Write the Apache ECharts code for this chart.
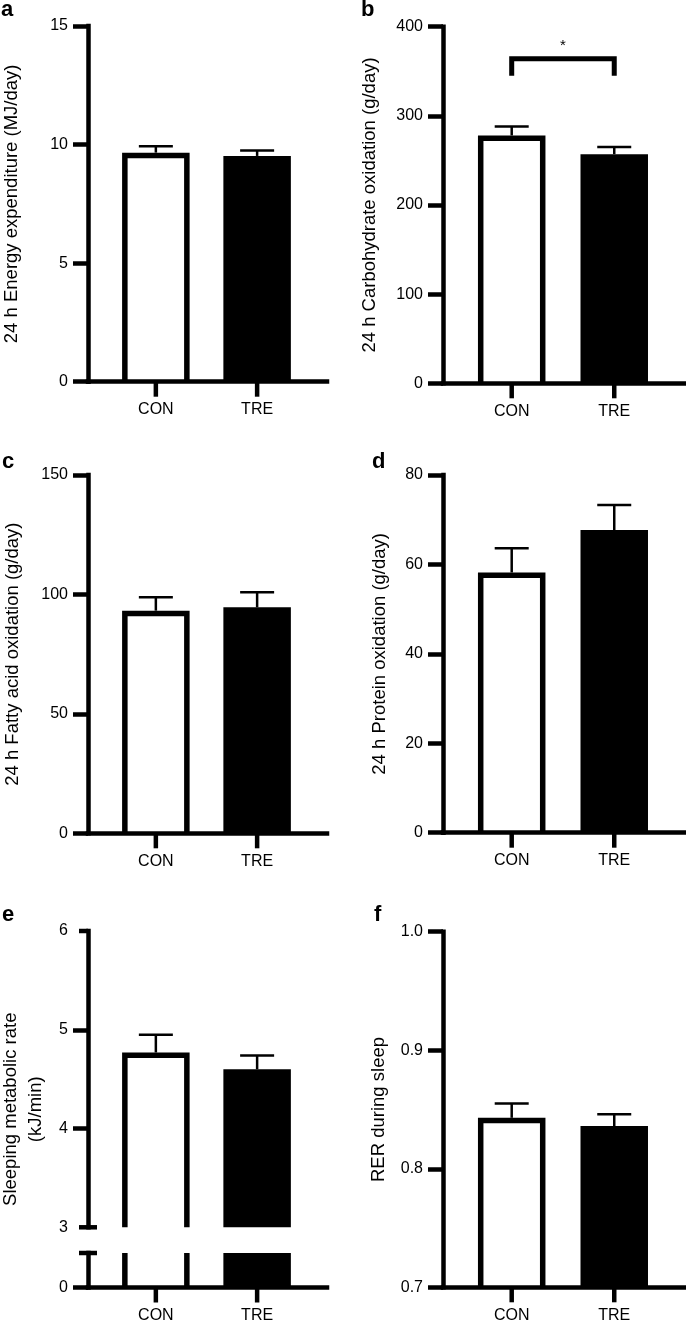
<!DOCTYPE html>
<html>
<head>
<meta charset="utf-8">
<script src="https://cdn.jsdelivr.net/npm/echarts@6/dist/echarts.min.js"></script>
<style>
html,body{margin:0;padding:0;background:#fff;}
#chart{width:686px;height:1323px;}
</style>
</head>
<body>
<div id="chart"></div>
<script>
// ---------------- DATA ----------------
const categories = ['CON', 'TRE'];
const panelLetters = ['a', 'b', 'c', 'd', 'e', 'f'];
const axisTitles = [
  '24 h Energy expenditure (MJ/day)',
  '24 h Carbohydrate oxidation (g/day)',
  '24 h Fatty acid oxidation (g/day)',
  '24 h Protein oxidation (g/day)',
  'Sleeping metabolic rate\n(kJ/min)',
  'RER during sleep'
];
// means and SEM (upper error) per panel, [CON, TRE]
const energyMean = [9.66, 9.52],   energySem = [0.27, 0.23];
const carbMean   = [278, 257],     carbSem   = [10, 8];
const fatMean    = [93.2, 94.6],   fatSem    = [5.6, 6.3];
const protMean   = [58.2, 67.7],   protSem   = [5.4, 5.6];
const smrMean    = [4.77, 4.60],   smrSem    = [0.18, 0.14];
const rerMean    = [0.843, 0.836], rerSem    = [0.012, 0.010];
// y-axis ticks
const energyTicks = [0, 5, 10, 15];
const carbTicks   = [0, 100, 200, 300, 400];
const fatTicks    = [0, 50, 100, 150];
const protTicks   = [0, 20, 40, 60, 80];
const smrTicksUpper = [3, 4, 5, 6];
const smrTicksLower = [0, 1];
const rerTicks    = [0.7, 0.8, 0.9, 1.0];
// significance bracket (panel b): from category, to category, bracket top, leg bottom
const carbSig = [[0, 1, 364, 345]];
const carbSigMark = '*';

// ---------------- STYLE / LAYOUT ----------------
const FONT = '"Liberation Sans", Arial, Helvetica, sans-serif';
const X_MIN = -0.67, X_MAX = 1.69;
const BAR_W = 67.5, BORDER = 5.5, AXIS_W = 4.5, TICK_LEN = 15, ERR_W = 2.5, CAP_HALF = 17;

const grids = [], xAxes = [], yAxes = [], series = [];

function addGrid(g) {
  grids.push(Object.assign({containLabel: false, outerBoundsMode: 'none'}, g));
  return grids.length - 1;
}
function xAxisCfg(gi, show) {
  return {
    gridIndex: gi, type: 'value', min: X_MIN, max: X_MAX, show: show,
    splitLine: {show: false},
    axisLine: {show: true, onZero: false, lineStyle: {color: '#000', width: AXIS_W, cap: 'square'}},
    axisTick: {show: false},
    axisLabel: {show: true, customValues: [0, 1], formatter: v => categories[Math.round(v)] || '',
      color: '#000', fontSize: 16, fontFamily: FONT, margin: 20}
  };
}
function yAxisCfg(gi, ticks, extra) {
  const cfg = {
    gridIndex: gi, type: 'value', min: ticks[0], max: ticks[ticks.length - 1],
    interval: ticks[1] - ticks[0],
    splitLine: {show: false},
    axisLine: {show: true, onZero: false, lineStyle: {color: '#000', width: AXIS_W, cap: 'square'}},
    axisTick: {show: true, length: TICK_LEN, lineStyle: {color: '#000', width: AXIS_W}},
    axisLabel: {color: '#000', fontSize: 16, fontFamily: FONT, margin: 20},
    nameLocation: 'middle',
    nameTextStyle: {color: '#000', fontSize: 18.5, fontFamily: FONT}
  };
  return Object.assign(cfg, extra || {});
}
// filled (TRE) bar
function filledBarSeries(gi, means, idx) {
  return {
    type: 'bar', xAxisIndex: gi, yAxisIndex: gi, barWidth: BAR_W, clip: true,
    silent: true, animation: false, z: 2,
    data: [{value: [idx, means[idx]], itemStyle: {color: '#000', borderWidth: 0}}]
  };
}
// category ticks below the x axis
function xTickSeries(gi, yBase) {
  return {
    type: 'custom', xAxisIndex: gi, yAxisIndex: gi, silent: true, animation: false, z: 1,
    data: categories.map((c, i) => [i, yBase]),
    renderItem: (params, api) => {
      const p = api.coord([api.value(0), api.value(1)]);
      return {type: 'line', shape: {x1: p[0], y1: p[1], x2: p[0], y2: p[1] + TICK_LEN},
        style: {stroke: '#000', lineWidth: AXIS_W}};
    }
  };
}
function errSeries(gi, means, sems) {
  return {
    type: 'custom', xAxisIndex: gi, yAxisIndex: gi, silent: true, animation: false, z: 5,
    data: means.map((m, i) => [i, m, m + sems[i]]),
    renderItem: (params, api) => {
      const p0 = api.coord([api.value(0), api.value(1)]);
      const p1 = api.coord([api.value(0), api.value(2)]);
      return {type: 'group', children: [
        {type: 'line', shape: {x1: p0[0], y1: p0[1], x2: p1[0], y2: p1[1]}, style: {stroke: '#000', lineWidth: ERR_W}},
        {type: 'line', shape: {x1: p1[0] - CAP_HALF, y1: p1[1], x2: p1[0] + CAP_HALF, y2: p1[1]}, style: {stroke: '#000', lineWidth: ERR_W}}
      ]};
    }
  };
}
// open-bottom outlined bar (CON): data [x, top, base]
function openBarSeries(gi, rows, drawTop) {
  return {
    type: 'custom', xAxisIndex: gi, yAxisIndex: gi, silent: true, animation: false, z: 3,
    data: rows,
    renderItem: (params, api) => {
      const pT = api.coord([api.value(0), api.value(1)]);
      const pB = api.coord([api.value(0), api.value(2)]);
      const h = BAR_W / 2 - BORDER / 2;
      if (drawTop) {
        const yt = pT[1] + BORDER / 2;
        return {type: 'polyline', shape: {points: [[pT[0] - h, pB[1]], [pT[0] - h, yt], [pT[0] + h, yt], [pT[0] + h, pB[1]]]},
          style: {stroke: '#000', lineWidth: BORDER, fill: null, lineJoin: 'miter'}};
      }
      return {type: 'group', children: [
        {type: 'line', shape: {x1: pT[0] - h, y1: pT[1], x2: pT[0] - h, y2: pB[1]}, style: {stroke: '#000', lineWidth: BORDER}},
        {type: 'line', shape: {x1: pT[0] + h, y1: pT[1], x2: pT[0] + h, y2: pB[1]}, style: {stroke: '#000', lineWidth: BORDER}}
      ]};
    }
  };
}
// short horizontal marks on the y axis (axis-break caps / short end tick)
function axisMarkSeries(gi, yVal, leftLen, rightLen) {
  return {
    type: 'custom', xAxisIndex: gi, yAxisIndex: gi, silent: true, animation: false, z: 4,
    data: [[X_MIN, yVal]],
    renderItem: (params, api) => {
      const p = api.coord([api.value(0), api.value(1)]);
      return {type: 'line', shape: {x1: p[0] - leftLen, y1: p[1], x2: p[0] + rightLen, y2: p[1]}, style: {stroke: '#000', lineWidth: AXIS_W}};
    }
  };
}

// standard panels
const standard = [
  {idx: 0, mean: energyMean, sem: energySem, ticks: energyTicks, grid: {left: 88, top: 26, width: 239, height: 355.7}, gap: 67},
  {idx: 1, mean: carbMean, sem: carbSem, ticks: carbTicks, grid: {left: 443, top: 26.7, width: 242, height: 356.6}, gap: 64},
  {idx: 2, mean: fatMean, sem: fatSem, ticks: fatTicks, grid: {left: 88, top: 475, width: 239, height: 358.3}, gap: 66},
  {idx: 3, mean: protMean, sem: protSem, ticks: protTicks, grid: {left: 443, top: 475, width: 242, height: 357.7}, gap: 54},
  {idx: 5, mean: rerMean, sem: rerSem, ticks: rerTicks, grid: {left: 443, top: 931.7, width: 242, height: 355.6}, gap: 55,
    fmt: v => v.toFixed(1)}
];
const gridOf = {};
standard.forEach(p => {
  const gi = addGrid(p.grid);
  gridOf[p.idx] = gi;
  xAxes.push(xAxisCfg(gi, true));
  const y = yAxisCfg(gi, p.ticks, {name: axisTitles[p.idx], nameGap: p.gap});
  if (p.fmt) y.axisLabel.formatter = p.fmt;
  yAxes.push(y);
  series.push(filledBarSeries(gi, p.mean, 1));
  series.push(openBarSeries(gi, [[0, p.mean[0], p.ticks[0]]], true));
  series.push(errSeries(gi, p.mean, p.sem));
  series.push(xTickSeries(gi, p.ticks[0]));
});

// significance bracket on panel b
series.push({
  type: 'custom', xAxisIndex: gridOf[1], yAxisIndex: gridOf[1], silent: true, animation: false, z: 6,
  data: carbSig,
  renderItem: (params, api) => {
    const pL = api.coord([api.value(0), api.value(2)]);
    const pR = api.coord([api.value(1), api.value(2)]);
    const pLb = api.coord([api.value(0), api.value(3)]);
    return {type: 'group', children: [
      {type: 'polyline', shape: {points: [[pL[0], pLb[1]], pL, pR, [pR[0], pLb[1]]]},
        style: {stroke: '#000', lineWidth: 5, fill: null, lineJoin: 'miter'}},
      {type: 'text', x: (pL[0] + pR[0]) / 2, y: pL[1] - 13,
        style: {text: carbSigMark, font: '15px ' + FONT, fill: '#000', align: 'center', verticalAlign: 'middle'}}
    ]};
  }
});

// panel e : broken axis
const eUp = addGrid({left: 88, top: 931, width: 239, height: 296.3});
xAxes.push(xAxisCfg(eUp, false));
yAxes.push(yAxisCfg(eUp, smrTicksUpper, {axisTick: {show: true, customValues: smrTicksUpper.slice(1, -1), length: TICK_LEN, lineStyle: {color: '#000', width: AXIS_W}}}));
series.push(filledBarSeries(eUp, smrMean, 1));
series.push(openBarSeries(eUp, [[0, smrMean[0], smrTicksUpper[0]]], true));
series.push(errSeries(eUp, smrMean, smrSem));
series.push(axisMarkSeries(eUp, smrTicksUpper[0], 9, 9));
series.push(axisMarkSeries(eUp, smrTicksUpper[smrTicksUpper.length - 1], 9, 0));

const eLo = addGrid({left: 88, top: 1253, width: 239, height: 34.5});
xAxes.push(xAxisCfg(eLo, true));
const yLo = yAxisCfg(eLo, smrTicksLower);
yLo.axisTick.customValues = [smrTicksLower[0]];
yLo.axisLabel.customValues = [smrTicksLower[0]];
yAxes.push(yLo);
series.push(filledBarSeries(eLo, smrMean, 1));
series.push(openBarSeries(eLo, [[0, smrTicksLower[1], smrTicksLower[0]]], false));
series.push(axisMarkSeries(eLo, smrTicksLower[1], 9, 9));
series.push(xTickSeries(eLo, smrTicksLower[0]));

// title axis for e spanning both segments
const eName = addGrid({left: 88, top: 931, width: 239, height: 356.5});
xAxes.push({gridIndex: eName, type: 'value', show: false, min: 0, max: 1});
yAxes.push({gridIndex: eName, type: 'value', min: 0, max: 1,
  axisLine: {show: false}, axisTick: {show: false}, axisLabel: {show: false}, splitLine: {show: false},
  name: axisTitles[4], nameLocation: 'middle', nameGap: 40,
  nameTextStyle: {color: '#000', fontSize: 18.5, lineHeight: 25, fontFamily: FONT, align: 'center'}});

// panel letters
const letterPos = [[1, 10.4], [361, 10.4], [2, 462.4], [372, 462.4], [2, 915.4], [374, 915.4]];
const graphics = panelLetters.map((t, i) => ({
  type: 'text', x: letterPos[i][0], y: letterPos[i][1], silent: true,
  style: {text: t, font: 'bold 22px ' + FONT, fill: '#000', align: 'left', verticalAlign: 'middle'}
}));

const chart = echarts.init(document.getElementById('chart'), null, {renderer: 'canvas'});
chart.setOption({
  animation: false,
  backgroundColor: '#fff',
  grid: grids, xAxis: xAxes, yAxis: yAxes, series: series, graphic: graphics
});
</script>
</body>
</html>
